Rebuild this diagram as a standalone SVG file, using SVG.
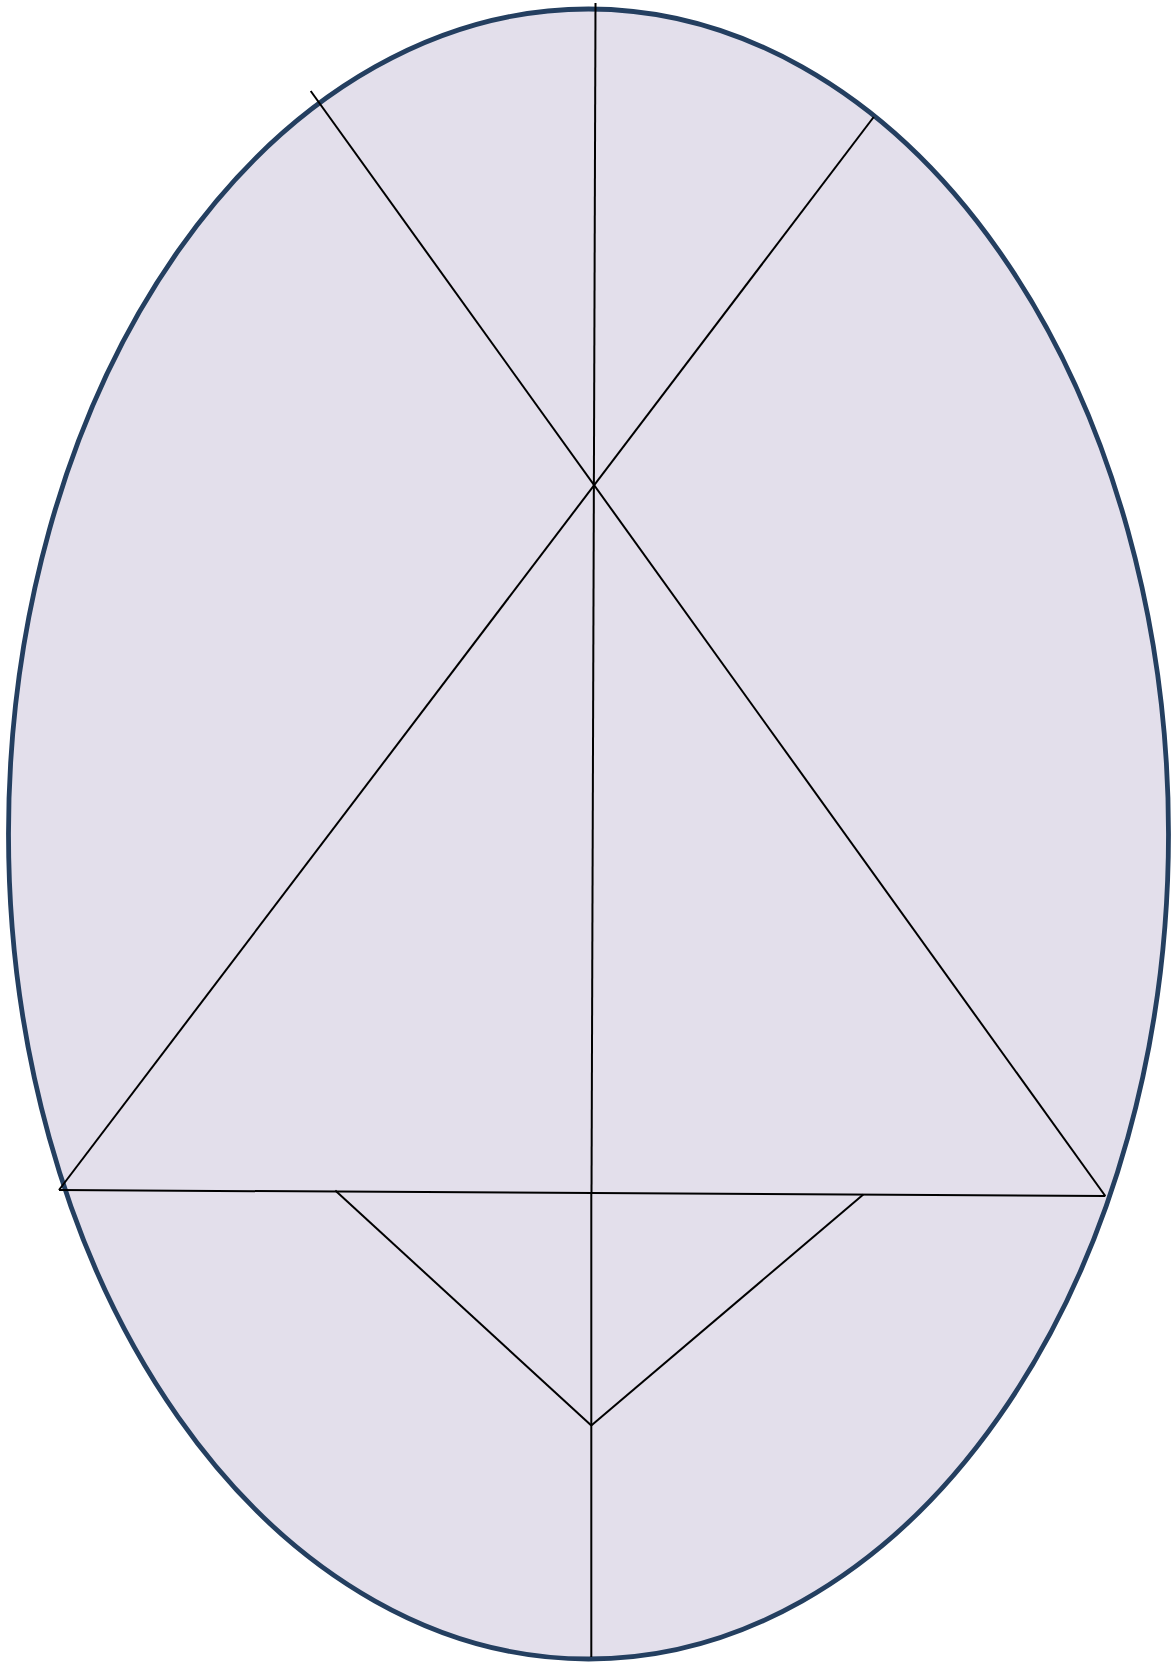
<svg xmlns="http://www.w3.org/2000/svg" width="1171" height="1664" viewBox="0 0 1171 1664">
<style>
.ln{stroke:#000;stroke-width:2;fill:none;stroke-linecap:butt}
</style>
<rect width="1171" height="1664" fill="#fff"/>
<g id="oval">
<ellipse cx="588.5" cy="834" rx="580" ry="825" fill="#e3dfeb" stroke="#243f60" stroke-width="4.8"/>
</g>
<g id="connectors">
<line class="ln" x1="595.5" y1="3" x2="591.5" y2="1193"/>
<line class="ln" x1="310.7" y1="91" x2="1105.3" y2="1196"/>
<line class="ln" x1="873.7" y1="117" x2="59" y2="1190"/>
<line class="ln" x1="59" y1="1190" x2="1105.3" y2="1196"/>
<line class="ln" x1="335.3" y1="1190.5" x2="591.3" y2="1425.5"/>
<line class="ln" x1="863.3" y1="1194.5" x2="591.3" y2="1425.5"/>
<line class="ln" x1="591.3" y1="1193" x2="591.3" y2="1657"/>
</g>
</svg>
